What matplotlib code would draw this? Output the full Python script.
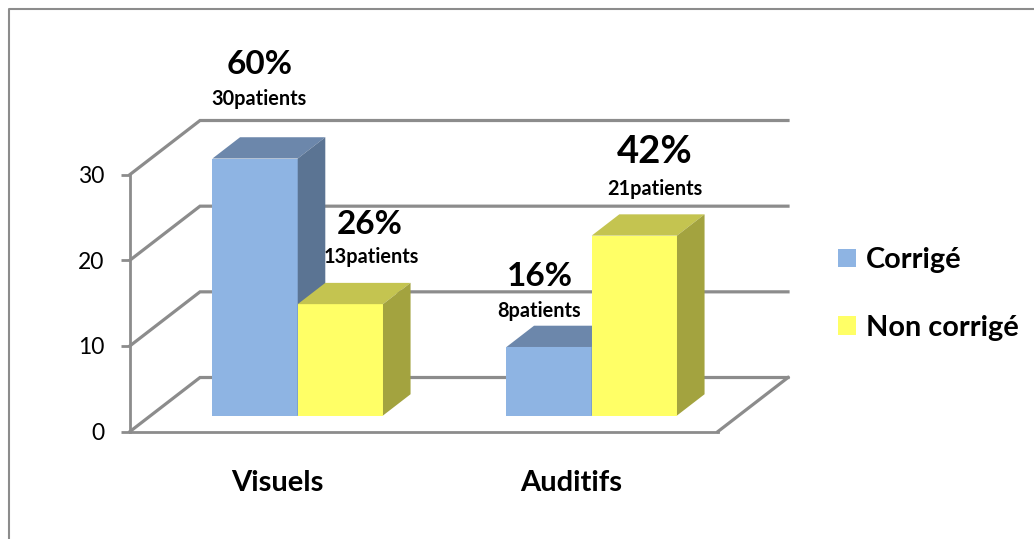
import matplotlib
matplotlib.use("Agg")
import matplotlib.pyplot as plt
from matplotlib.lines import Line2D

plt.rcParams["font.family"] = ["Lato", "DejaVu Sans"]

categories = ["Visuels", "Auditifs"]
corrige = [30, 8]
non_corrige = [13, 21]
pct_labels = ["60%", "26%", "16%", "42%"]
patient_labels = ["30patients", "13patients", "8patients", "21patients"]
y_ticks = [0, 10, 20, 30]

W, H = 1034, 539
GRAY = "#8c8c8c"
# shift of the back wall relative to the front plane, in data units
DEPTH_X = 70 / 294
DEPTH_Y = 54 / 8.567
BAR_WIDTH = 0.29
BAR_FRONT = 0.296
BAR_BACK = 0.69


def px(x, y):
    return x / W, 1 - y / H


def proj(x, y, depth):
    return x + depth * DEPTH_X, y + depth * DEPTH_Y


def draw_bar(ax, left, value, front, top, side, label=None):
    right = left + BAR_WIDTH
    x0, y0 = proj(left, 0, BAR_FRONT)
    x1, y1 = proj(right, value, BAR_FRONT)
    ax.bar(x0, y1 - y0, BAR_WIDTH, bottom=y0, align="edge", color=front, clip_on=False, zorder=3, label=label)
    top_face = [proj(left, value, BAR_FRONT), proj(right, value, BAR_FRONT), proj(right, value, BAR_BACK), proj(left, value, BAR_BACK)]
    side_face = [proj(right, 0, BAR_FRONT), proj(right, value, BAR_FRONT), proj(right, value, BAR_BACK), proj(right, 0, BAR_BACK)]
    ax.fill(*zip(*top_face), color=top, lw=0, clip_on=False, zorder=3)
    ax.fill(*zip(*side_face), color=side, lw=0, clip_on=False, zorder=3)


fig = plt.figure(figsize=(W / 100, H / 100), dpi=100)
ax = fig.add_axes([130 / W, 1 - 431.5 / H, 588 / W, 257 / H])
ax.set_xlim(-0.5, 1.5)
ax.set_ylim(0, 30)
ax.patch.set_visible(False)

# walls and floor
for y in y_ticks:
    a = proj(-0.5, y, 0)
    b = proj(-0.5, y, 1)
    c = proj(1.5, y, 1)
    ax.plot([a[0], b[0], c[0]], [a[1], b[1], c[1]], color=GRAY, lw=2.3, clip_on=False, zorder=1, solid_joinstyle="miter")
a = proj(1.5, 0, 0)
b = proj(1.5, 0, 1)
ax.plot([a[0], b[0]], [a[1], b[1]], color=GRAY, lw=2.3, clip_on=False, zorder=1)

# bars, each group is drawn left to right so yellow covers the blue side
for i in range(len(categories)):
    draw_bar(ax, i - BAR_WIDTH, corrige[i], "#8eb4e3", "#6c87ab", "#5b7493", "Corrigé" if i == 0 else None)
    draw_bar(ax, i, non_corrige[i], "#ffff66", "#c4c450", "#a3a33f", "Non corrigé" if i == 0 else None)

for s in ["top", "right"]:
    ax.spines[s].set_visible(False)
for s in ["left", "bottom"]:
    ax.spines[s].set_color(GRAY)
    ax.spines[s].set_linewidth(2)

ax.set_yticks(y_ticks)
ax.tick_params(axis="y", length=6.5, width=2, color=GRAY, labelsize=16.5, pad=12)
ax.set_xticks(range(len(categories)))
ax.set_xticklabels(categories, fontsize=21, fontweight="bold")
ax.tick_params(axis="x", length=0, pad=28)

label_pos = [(260, 64), (370, 224), (540, 277), (655, 152)]
label_size = [24, 24, 24, 27.5]
patient_pos = [(259, 99), (371, 257), (539, 311), (655, 189)]
for text, pos, size in zip(pct_labels, label_pos, label_size):
    fig.text(*px(*pos), text, fontsize=size, fontweight="bold", ha="center", va="center", zorder=5)
for text, pos in zip(patient_labels, patient_pos):
    fig.text(*px(*pos), text, fontsize=14.3, fontweight="bold", ha="center", va="center", zorder=5)

ax.legend(loc="center left", bbox_to_anchor=px(838, 294), bbox_transform=fig.transFigure, frameon=False,
          prop={"size": 20.8, "weight": "bold"}, handlelength=0.62, handleheight=0.62, handletextpad=0.36, labelspacing=1.45, borderpad=0, borderaxespad=0)

# outer frame, cropped at right and bottom
fig.add_artist(Line2D([9 / W, 9 / W, 1], [0, 1 - 9 / H, 1 - 9 / H], color=GRAY, lw=1.5))

fig.savefig("out.png", dpi=100)
